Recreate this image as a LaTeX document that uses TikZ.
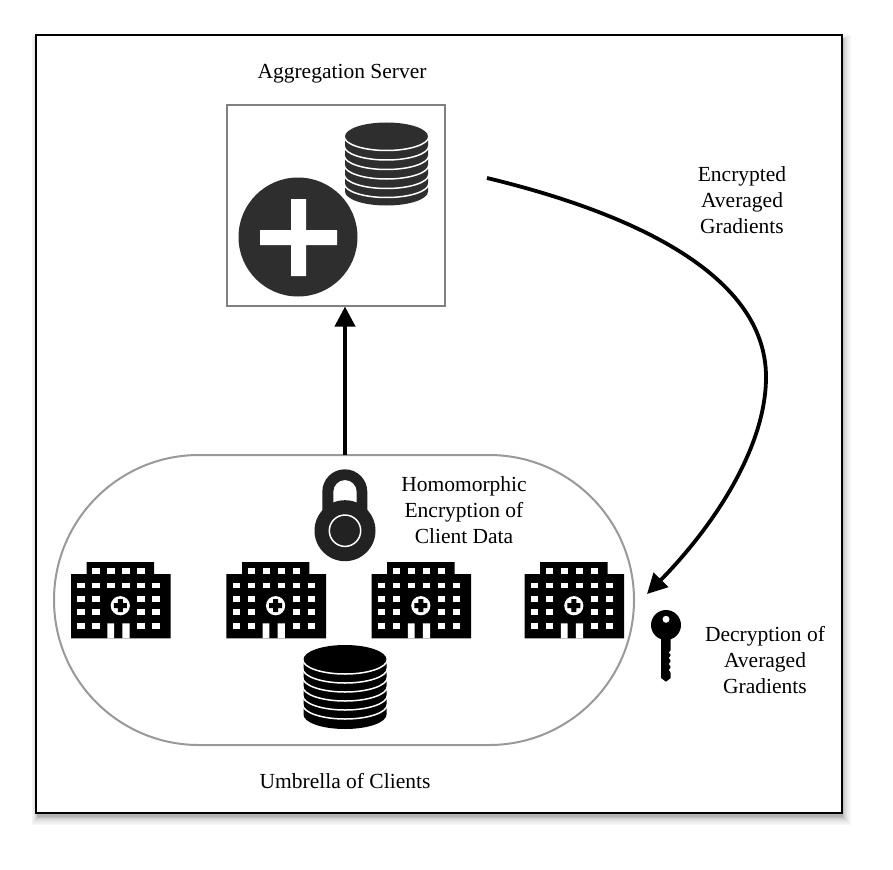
\documentclass[tikz,border=0pt]{standalone}
\usepackage{fontspec}
\setmainfont{Liberation Serif}
\usetikzlibrary{arrows.meta}
\definecolor{icondark}{HTML}{2E2E2E}
\definecolor{lockdark}{HTML}{222222}
\tikzset{
  lbl/.style={align=center,font=\fontsize{21.5}{26}\selectfont,inner sep=0pt,text=black},
  boxnode/.style={inner sep=0pt,outer sep=0pt,anchor=north west},
  conn/.style={line width=3.8pt,-{Triangle[length=20pt,width=20pt]}},
  hospital/.pic={
    \fill[black] (15.7,0) rectangle (83,14) (0,12) rectangle (99.7,76.3);
    \foreach \x in {21.3,36.3,51.3,66.3} \fill[white] (\x,6.3) rectangle ++(7.3,6);
    \foreach \x in {6.3,21.3,36.3,51.3,66.3,81.3} \fill[white] (\x,20.7) rectangle ++(7.3,5.7);
    \foreach \y in {34,47.3,61.3} \foreach \x in {6.3,21.3,66.3,81.3} \fill[white] (\x,\y) rectangle ++(7.3,5.7);
    \fill[white] (36.3,61.3) rectangle (43,76.3) (51.3,61.3) rectangle (58.6,76.3);
    \fill[white] (49.3,43.7) circle[radius=9.6];
    \fill[black] (46.8,37.2) rectangle (51.8,50.2) (42.8,41.2) rectangle (55.8,46.2);
  },
}
% #1 centre x, #2 top ellipse centre y, #3 half width, #4 half height, #5 colour, #6 arc offsets from #2
\newcommand{\coinstack}[6]{%
  \fill[#5] (#1-#3,#2) arc[start angle=180,end angle=360,x radius=#3,y radius=#4]
     -- (#1+#3,#2+55) arc[start angle=0,end angle=180,x radius=#3,y radius=#4] -- cycle;
  \foreach \d in {#6}
    \draw[white,line width=1.5pt] (#1-#3-0.8,#2+\d) arc[start angle=180,end angle=0,x radius=#3+0.8,y radius=#4];
}
\begin{document}
\begin{tikzpicture}[x=1pt,y=-1pt]
\useasboundingbox (0,0) rectangle (893,869);
% frame with soft shadow
\foreach \n/\o in {3/9,5/8,7/7,9/6,12/5,15/4,19/3,24/2,30/1}
  \fill[black!\n] (38-0.7*\o,40-0.5*\o) rectangle (842+\o,816+\o);
\node[boxnode,draw=black,line width=2pt,fill=white,minimum width=806pt,minimum height=778pt] (frame) at (36,35) {};
% server
\node[boxnode,draw=black!50,line width=2pt,minimum width=218pt,minimum height=200pt] (server) at (227,105.5) {};
\coinstack{386.5}{136.5}{41.5}{14}{icondark}{0,9.5,19,28.5,38,47}
\fill[icondark] (298,237) circle[radius=59.5];
\fill[white] (291,199) rectangle (306,276) (260,230) rectangle (337,245);
% capsule
\node[boxnode,draw=black!40,line width=2pt,rounded corners=145pt,minimum width=580pt,minimum height=290pt] (capsule) at (54,455) {};
% lock
\fill[lockdark,even odd rule] (322.3,510) -- (322.3,491.8) arc[start angle=180,end angle=360,x radius=22.5,y radius=22.5] -- (367.3,510) -- cycle
  (333.3,503) -- (333.3,491.7) arc[start angle=180,end angle=360,x radius=11.7,y radius=11.7] -- (356.7,503) .. controls (350,500.5) and (340,500.5) .. (333.3,503) -- cycle;
\fill[lockdark] (345,530.7) circle[radius=30.5];
\draw[white,line width=1.5pt] (345,530.7) circle[radius=15.7];
% hospitals
\pic at (71,562) {hospital};
\pic at (226.3,562) {hospital};
\pic at (371.5,562) {hospital};
\pic at (524.5,562) {hospital};
% client stack
\coinstack{345}{659.5}{41.5}{14.5}{black}{0,9,18,27,36,45}
% key
\fill[black] (666,625) circle[radius=15];
\fill[black] (661,632) -- (670.7,632) -- (670.7,650) -- (668.8,652.5) -- (670.7,655) -- (668.8,658) -- (670.7,661) -- (668.8,664) -- (670.7,667) -- (668.8,670) -- (670.7,673) -- (670.7,678) -- (666,681.7) -- (661,678) -- cycle;
\fill[white] (666,619.3) circle[radius=3.5];
% connectors
\coordinate (curvestart) at (487,178);
\coordinate (curvemid) at (766,377);
\coordinate (curveend) at (647,594);
\draw[conn,shorten >=1pt] ([xshift=1pt]capsule.north) -- ([xshift=1pt]capsule.north |- server.south);
\draw[conn] (curvestart) .. controls (620,210) and (766,270) .. (curvemid) .. controls (766,450) and (710,530) .. (curveend);
% labels
\node[lbl] (t1) at (342,74) {Aggregation Server};
\node[lbl] (t2) at (742,200) {Encrypted\\Averaged\\Gradients};
\node[lbl] (t3) at (464,510) {Homomorphic\\Encryption of\\Client Data};
\node[lbl] (t4) at (765,660) {Decryption of\\Averaged\\Gradients};
\node[lbl] (t5) at (345,781) {Umbrella of Clients};
\end{tikzpicture}
\end{document}
